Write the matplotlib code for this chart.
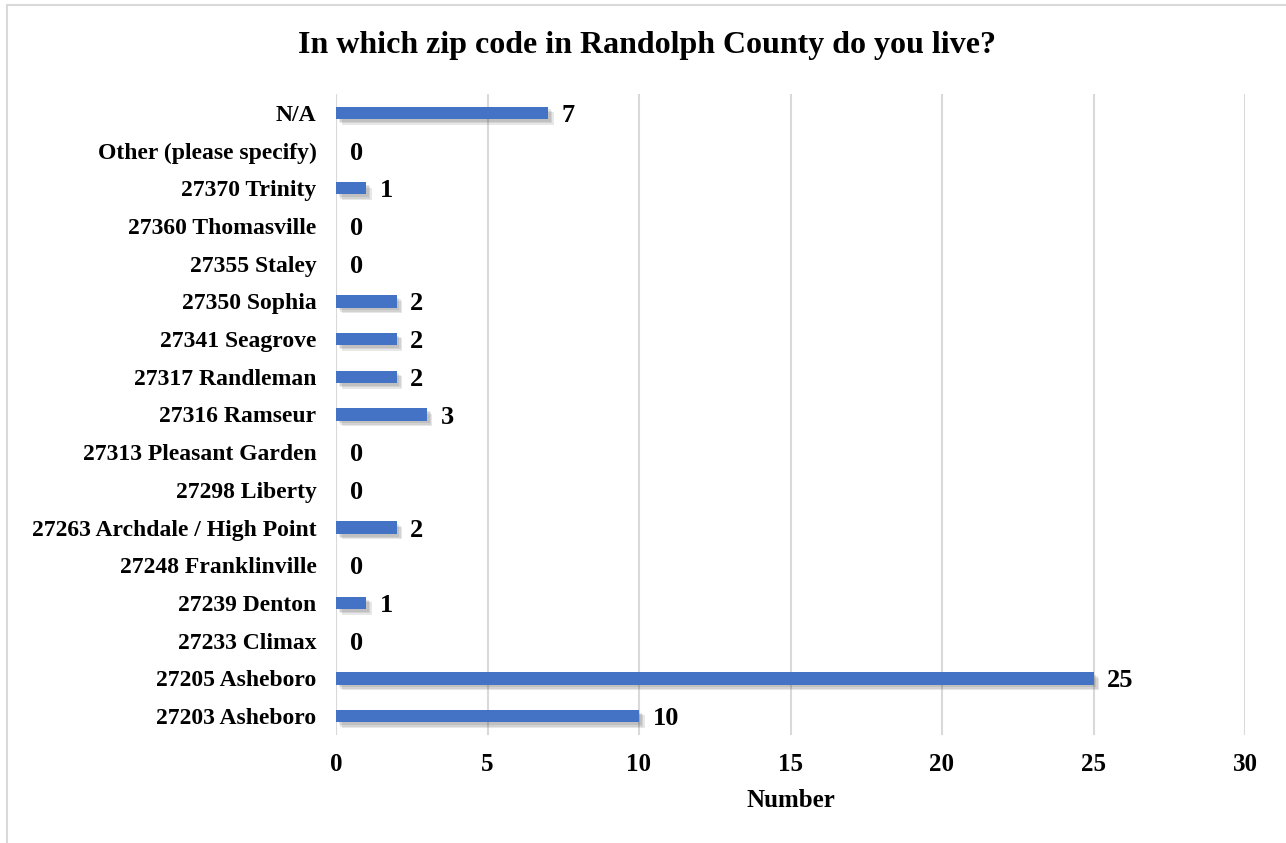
import matplotlib.pyplot as plt
import matplotlib.patheffects as pe
from matplotlib.patches import Rectangle

categories = ['27203 Asheboro', '27205 Asheboro', '27233 Climax', '27239 Denton',
              '27248 Franklinville', '27263 Archdale / High Point', '27298 Liberty',
              '27313 Pleasant Garden', '27316 Ramseur', '27317 Randleman',
              '27341 Seagrove', '27350 Sophia', '27355 Staley', '27360 Thomasville',
              '27370 Trinity', 'Other (please specify)', 'N/A']
counts = [10, 25, 0, 1, 0, 2, 0, 0, 3, 2, 2, 2, 0, 0, 1, 0, 7]
xticks = [0, 5, 10, 15, 20, 25, 30]

plt.rcParams['font.family'] = ['Liberation Serif', 'DejaVu Serif']
plt.rcParams['font.weight'] = 'bold'

fig = plt.figure(figsize=(12.86, 8.43), dpi=100)
ax = fig.add_axes([336 / 1286, 1 - 735 / 843, (1245 - 336) / 1286, (735 - 94) / 843])

# light frame around the chart area
fig.patches.append(Rectangle((7 / 1286, -0.01), 1.02, 1 - 5 / 843 + 0.01,
                             transform=fig.transFigure, fill=False,
                             edgecolor='#d9d9d9', linewidth=1.5))

# soft drop shadow built from a few offset layers
shadow = [pe.SimplePatchShadow(offset=(o, -o), shadow_rgbFace='#404040', alpha=0.12)
          for o in (4, 3, 2)]

y = list(range(len(categories)))
ax.barh(y, counts, height=0.33, color='#4472C4', zorder=3,
        path_effects=shadow + [pe.Normal()])

for yi, v in zip(y, counts):
    ax.text(v + 0.45, yi, str(v), va='center_baseline', ha='left', fontsize=19, fontweight='bold')

ax.set_ylim(-0.5, len(categories) - 0.5)
ax.set_xlim(0, 30)
ax.set_yticks(y)
ax.set_yticklabels(categories, fontsize=17, fontweight='bold')
ax.set_xticks(xticks)
ax.set_xticklabels([str(t) for t in xticks], fontsize=18, fontweight='bold')
ax.tick_params(length=0, pad=14, axis='y')
ax.tick_params(length=0, pad=13, axis='x')
ax.grid(axis='x', color='#d9d9d9', linewidth=1.5, zorder=0)
for s in ax.spines.values():
    s.set_visible(False)
ax.axvline(0, color='#d9d9d9', linewidth=1.5, zorder=1)

ax.set_xlabel('Number', fontsize=18, fontweight='bold', labelpad=9)
fig.text(0.5 * (1 + 7 / 1286), 1 - 45 / 843, 'In which zip code in Randolph County do you live?',
         ha='center', va='center', fontsize=23, fontweight='bold')

fig.savefig('out.png', dpi=100)
